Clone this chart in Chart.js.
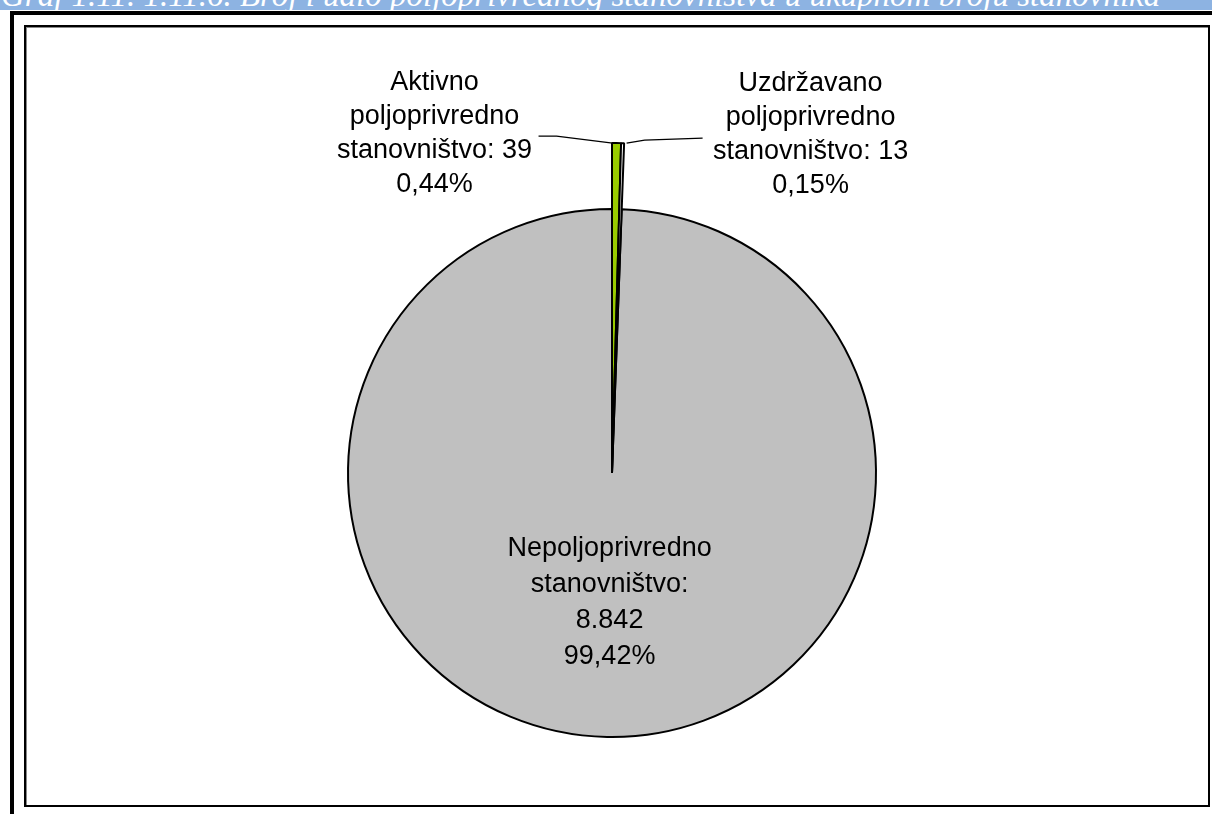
<!DOCTYPE html>
<html>
<head>
<meta charset="utf-8">
<script src="https://cdn.jsdelivr.net/npm/chart.js@4/dist/chart.umd.min.js"></script>
<style>
  html, body { margin:0; padding:0; background:#fff; }
  body { width:1212px; height:814px; position:relative; overflow:hidden; }
  #band { position:absolute; left:0; top:0; width:1212px; height:10px; background:#8db3e2; overflow:hidden; }
  #band span { position:absolute; left:1px; top:-21px; font:italic 33px/33px "Liberation Serif", serif; color:#fff; white-space:nowrap; }
  #hbar { position:absolute; left:10px; top:11px; width:1202px; height:4px; background:#000; }
  #vbar { position:absolute; left:10px; top:11px; width:4px; height:803px; background:#000; }
  #box { position:absolute; left:24px; top:25px; width:1182px; height:778px; border:2px solid #000; box-shadow:inset 1px 1px 0 #888; }
  #wrap { position:absolute; left:27px; top:27px; width:1181px; height:778px; }
</style>
</head>
<body>
<div id="band"><span>Graf 1.11. 1.11.6. Broj i udio poljoprivrednog stanovništva u ukupnom broju stanovnika</span></div>
<div id="hbar"></div>
<div id="vbar"></div>
<div id="box"></div>
<div id="wrap"><canvas id="pieChart"></canvas></div>

<script>
// podaci (nepoljoprivredno prvo, da se mali isječci crtaju preko njega)
const labels = ["Nepoljoprivredno stanovništvo", "Aktivno poljoprivredno stanovništvo", "Uzdržavano poljoprivredno stanovništvo"];
const labelLines = [
  ["Nepoljoprivredno", "stanovništvo:", "8.842"],
  ["Aktivno", "poljoprivredno", "stanovništvo: 39"],
  ["Uzdržavano", "poljoprivredno", "stanovništvo: 13"]
];
const values = [8842, 39, 13];
const colors = ["#c0c0c0", "#99cc00", "#ffffff"];
const extend = [0, 66, 66]; // koliko mali isječci strše van kruga

const total = values.reduce((a, b) => a + b, 0);

function pct(v) {
  return (v / total * 100).toFixed(2).replace(".", ",") + "%";
}

// produži male isječke van kruga
const extendPlugin = {
  id: "extendSlices",
  afterDatasetUpdate(chart, args) {
    const meta = chart.getDatasetMeta(args.index);
    meta.data.forEach((arc, i) => {
      if (extend[i]) arc.outerRadius = arc.outerRadius + extend[i];
    });
  }
};

// oznake i linije
const labelPlugin = {
  id: "pieLabels",
  afterDatasetsDraw(chart) {
    const ctx = chart.ctx;
    const meta = chart.getDatasetMeta(0);
    ctx.save();
    ctx.font = '27px "Liberation Sans", Arial, sans-serif';
    ctx.fillStyle = "#000";
    ctx.strokeStyle = "#000";
    ctx.lineWidth = 1.3;
    ctx.textAlign = "center";
    ctx.textBaseline = "middle";

    meta.data.forEach((arc, i) => {
      const p = arc.getProps(["x", "y", "startAngle", "endAngle", "outerRadius"], true);
      const mid = (p.startAngle + p.endAngle) / 2;
      const lines = labelLines[i].concat([pct(values[i])]);

      if (extend[i]) {
        const tx = p.x + Math.cos(mid) * p.outerRadius;
        const ty = p.y + Math.sin(mid) * p.outerRadius;
        const left = i === 1;
        ctx.beginPath();
        if (left) {
          ctx.moveTo(tx - 4, ty);
          ctx.lineTo(tx - 60, ty - 7);
          ctx.lineTo(tx - 78, ty - 7);
        } else {
          ctx.moveTo(tx + 4, ty);
          ctx.lineTo(tx + 22, ty - 3);
          ctx.lineTo(tx + 80, ty - 5);
        }
        ctx.stroke();
        const cx = left ? tx - 182 : tx + 188;
        const cy = ty - 9;
        lines.forEach((t, k) => ctx.fillText(t, cx, cy + (k - 1.5) * 34));
      } else {
        const cx = p.x + Math.cos(mid) * p.outerRadius * 0.49;
        const cy = p.y + Math.sin(mid) * p.outerRadius * 0.49;
        lines.forEach((t, k) => ctx.fillText(t, cx, cy + (k - 1.5) * 36));
      }
    });
    ctx.restore();
  }
};

new Chart(document.getElementById("pieChart"), {
  type: "pie",
  data: {
    labels,
    datasets: [{
      data: values,
      backgroundColor: colors,
      borderColor: "#000",
      borderWidth: 2,
      radius: 264
    }]
  },
  options: {
    responsive: true,
    maintainAspectRatio: false,
    animation: false,
    // start tako da "Aktivno" počinje na 12 sati
    rotation: -values[0] / total * 360,
    layout: { padding: { left: 0, right: 11, top: 114, bottom: 0 } },
    plugins: { legend: { display: false }, tooltip: { enabled: false } }
  },
  plugins: [extendPlugin, labelPlugin]
});
</script>
</body>
</html>
